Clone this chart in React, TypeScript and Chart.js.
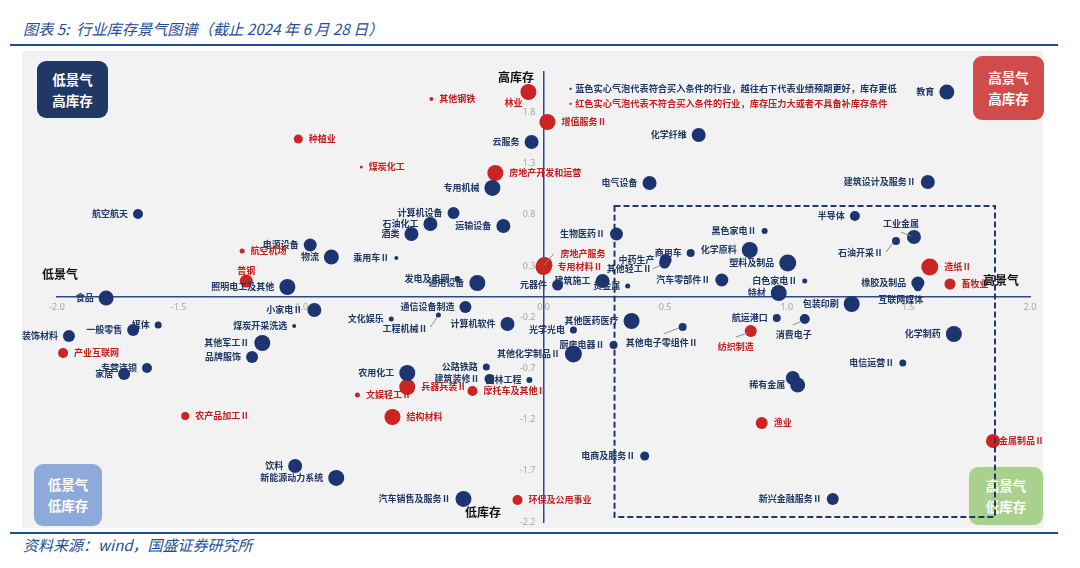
import React, { useEffect, useRef } from "react";
import { Chart, registerables } from "chart.js";

Chart.register(...registerables);

// ---------- axis ticks ----------
const xTickValues = [-2.0, -1.5, -1.0, 0.0, 0.5, 1.0, 1.5, 2.0];
const yTickValues = [-2.2, -1.7, -1.2, -0.7, -0.2, 0.3, 0.8, 1.3, 1.8];

// ---------- blue bubbles (符合买入条件) ----------
const blueNames = [
  "航空航天", "电源设备", "物流", "乘用车Ⅱ", "照明电工及其他", "食品", "小家电Ⅱ", "媒体", "一般零售", "煤炭开采洗选",
  "文化娱乐", "装饰材料", "其他军工Ⅱ", "品牌服饰", "专营连锁", "家居", "云服务", "专用机械", "化学纤维", "电气设备",
  "计算机设备", "教育", "建筑设计及服务Ⅱ", "半导体", "石油化工", "酒类", "运输设备", "生物医药Ⅱ", "发电及电网", "通用设备",
  "元器件", "建筑施工", "贵金属", "中药生产", "其他轻工Ⅱ", "商用车", "化学原料", "黑色家电Ⅱ", "塑料及制品", "汽车零部件Ⅱ",
  "白色家电Ⅱ", "特材", "包装印刷", "航运港口", "消费电子", "通信设备制造", "工程机械Ⅱ", "计算机软件", "光学光电", "其他医药医疗",
  "其他电子零组件Ⅱ", "厨房电器Ⅱ", "其他化学制品Ⅱ", "公路铁路", "农用化工", "建筑装修Ⅱ", "园林工程", "饮料", "新能源动力系统", "汽车销售及服务Ⅱ",
  "电商及服务Ⅱ", "工业金属", "石油开采Ⅱ", "橡胶及制品", "互联网媒体", "化学制药", "电信运营Ⅱ", "", "稀有金属", "新兴金融服务Ⅱ",
];
const blueX = [
  -1.667, -0.959, -0.872, -0.605, -1.053, -1.798, -0.942, -1.584, -1.687, -1.025,
  -0.626, -1.951, -1.156, -1.198, -1.630, -1.724, -0.049, -0.210, 0.638, 0.436,
  -0.370, 1.658, 1.580, 1.280, -0.465, -0.543, -0.165, 0.300, -0.354, -0.272,
  0.058, 0.243, 0.346, 0.502, 0.498, 0.605, 0.848, 0.909, 1.004, 0.733,
  1.074, 0.967, 1.267, 0.959, 1.074, -0.321, -0.432, -0.148, 0.123, 0.362,
  0.572, 0.288, 0.123, -0.235, -0.560, -0.222, -0.058, -1.021, -0.852, -0.329,
  0.416, 1.523, 1.449, 1.539, 1.539, 1.687, 1.477, 1.025, 1.045, 1.189,
];
const blueY = [
  0.808, 0.505, 0.388, 0.378, 0.095, -0.013, -0.130, -0.276, -0.325, -0.286,
  -0.218, -0.384, -0.452, -0.589, -0.696, -0.755, 1.511, 1.062, 1.579, 1.110,
  0.817, 1.999, 1.120, 0.788, 0.710, 0.612, 0.690, 0.612, 0.173, 0.134,
  0.114, 0.153, 0.104, 0.358, 0.329, 0.427, 0.456, 0.642, 0.329, 0.163,
  0.153, 0.036, -0.071, -0.208, -0.218, -0.101, -0.179, -0.267, -0.325, -0.237,
  -0.296, -0.472, -0.560, -0.687, -0.745, -0.804, -0.813, -1.653, -1.770, -1.975,
  -1.555, 0.583, 0.544, 0.134, 0.092, -0.364, -0.647, -0.794, -0.862, -1.975,
];
const blueSize = [
  5, 6.5, 7.5, 2, 8, 7.5, 7, 3.5, 6, 2,
  2.5, 6, 8, 6, 5, 6, 7, 8, 7, 7,
  6, 7.5, 7, 5, 7, 7, 7, 6.5, 3, 8,
  5.5, 7, 2.5, 6, 5.5, 4, 8, 3, 8.5, 6.5,
  2.5, 8, 8, 4, 5, 6, 2.5, 7, 3.5, 8,
  4, 4, 8.5, 3.5, 8, 5, 3, 7, 8, 8,
  4.5, 7, 4, 6.5, 4, 8, 3.5, 7, 7.5, 6,
];

// ---------- red bubbles (不符合买入条件) ----------
const redNames = [
  "其他钢铁", "种植业", "煤炭化工", "林业", "增值服务Ⅱ", "房地产开发和运营", "航空机场", "普钢", "房地产服务", "专用材料Ⅱ",
  "产业互联网", "兵器兵装Ⅱ", "摩托车及其他Ⅱ", "文娱轻工Ⅱ", "结构材料", "农产品加工Ⅱ", "环保及公用事业", "纺织制造", "造纸Ⅱ", "畜牧业",
  "渔业", "金属制品Ⅱ",
];
const redX = [
  -0.461, -1.008, -0.749, -0.062, 0.016, -0.198, -1.239, -1.222, 0.004, 0.000,
  -1.975, -0.560, -0.292, -0.765, -0.621, -1.473, -0.107, 0.852, 1.588, 1.671,
  0.897, 1.848,
];
const redY = [
  1.931, 1.540, 1.267, 1.999, 1.706, 1.208, 0.446, 0.153, 0.310, 0.290,
  -0.550, -0.882, -0.921, -0.960, -1.175, -1.165, -1.985, -0.335, 0.290, 0.124,
  -1.233, -1.409,
];
const redSize = [
  2, 4.5, 1.5, 8, 8, 8, 2.5, 6.5, 8, 8,
  5, 8, 5, 2.5, 8, 4, 5, 6, 8.5, 5.5,
  6, 7,
];

// ---------- styles ----------
const NAVY = "#1c3570";
const RED = "#cc2323";
const NAVY_TEXT = "#1f3864";
const RED_TEXT = "#c41e1e";
const AXIS = "#2c4a86";
const TICK_COLOR = "#a6a6a6";
const TICK_FONT = '9px "Noto Sans", sans-serif';
const LABEL_FONT = 'bold 9px "Noto Sans CJK SC", "Noto Sans", sans-serif';

// focus region (dashed box) in data units
const focusBox = { xMin: 0.292, xMax: 1.856, yMin: -2.15, yMax: 0.886 };

type Place = { align: CanvasTextAlign; dx: number; dy: number; leader?: [number, number, number, number] };
const labelPlacement: Record<string, Place> = {
  "林业": { align: "center", dx: -15, dy: 11 },
  "普钢": { align: "center", dx: 0, dy: -10 },
  "房地产服务": { align: "left", dx: 16, dy: -11, leader: [0, 0, 9, -11] },
  "其他轻工Ⅱ": { align: "right", dx: -13, dy: 6, leader: [-12, 6, -4, 2] },
  "工程机械Ⅱ": { align: "right", dx: -11, dy: 14, leader: [-8, 12, -1, 2] },
  "其他电子零组件Ⅱ": { align: "center", dx: -21, dy: 16, leader: [-19, 7, -4, 1] },
  "消费电子": { align: "center", dx: -11, dy: 16, leader: [-12, 6, -3, 2] },
  "纺织制造": { align: "center", dx: -15, dy: 16, leader: [-15, 6, -3, 2] },
  "工业金属": { align: "center", dx: -13, dy: -13, leader: [-13, -5, -3, -1] },
  "石油开采Ⅱ": { align: "right", dx: -13, dy: 12, leader: [-10, 11, -3, 2] },
  "互联网媒体": { align: "center", dx: -17, dy: 12 },
  "金属制品Ⅱ": { align: "left", dx: 6, dy: 0 },
};

function toPoints(names: string[], xs: number[], ys: number[], rs: number[]) {
  return names.map((name, i) => ({ x: xs[i], y: ys[i], r: rs[i], name }));
}

const overlayPlugin = {
  id: "overlay",
  beforeDatasetsDraw(chart: any) {
    // y tick labels, placed left of the y axis (which crosses at x = 0)
    const { ctx, scales } = chart;
    const xs = scales.x;
    const ys = scales.y;
    const ax = xs.getPixelForValue(0);
    ctx.save();
    ctx.font = TICK_FONT;
    ctx.fillStyle = TICK_COLOR;
    ctx.textAlign = "right";
    ctx.textBaseline = "middle";
    ys.ticks.forEach((t: any) => {
      ctx.fillText(Number(t.value).toFixed(1), ax - 8, ys.getPixelForValue(t.value));
    });
    ctx.restore();
  },
  afterDatasetsDraw(chart: any) {
    const { ctx, scales } = chart;
    const xs = scales.x;
    const ys = scales.y;
    // dashed focus box
    ctx.save();
    ctx.strokeStyle = NAVY_TEXT;
    ctx.lineWidth = 2;
    ctx.setLineDash([6, 3]);
    const l = xs.getPixelForValue(focusBox.xMin);
    const r = xs.getPixelForValue(focusBox.xMax);
    const t = ys.getPixelForValue(focusBox.yMax);
    const b = ys.getPixelForValue(focusBox.yMin);
    ctx.strokeRect(l, t, r - l, b - t);
    ctx.restore();

    // labels
    ctx.save();
    ctx.font = LABEL_FONT;
    ctx.textBaseline = "middle";
    chart.data.datasets.forEach((ds: any, di: number) => {
      const meta = chart.getDatasetMeta(di);
      const isRed = di === 1;
      meta.data.forEach((el: any, i: number) => {
        const p = ds.data[i];
        if (!p.name) return;
        const place = labelPlacement[p.name];
        let tx: number, ty: number, align: CanvasTextAlign;
        if (place) {
          tx = el.x + place.dx;
          ty = el.y + place.dy;
          align = place.align;
          if (place.leader) {
            const [a, bb, c, d] = place.leader;
            ctx.save();
            ctx.strokeStyle = "#8c8c8c";
            ctx.lineWidth = 1;
            ctx.beginPath();
            ctx.moveTo(el.x + a, el.y + bb);
            ctx.lineTo(el.x + c, el.y + d);
            ctx.stroke();
            ctx.restore();
          }
        } else if (isRed) {
          tx = el.x + p.r + 6;
          ty = el.y;
          align = "left";
        } else {
          tx = el.x - p.r - 5;
          ty = el.y;
          align = "right";
        }
        ctx.textAlign = align;
        ctx.fillStyle = isRed ? RED_TEXT : NAVY_TEXT;
        ctx.fillText(p.name, tx, ty);
      });
    });
    ctx.restore();
  },
};

const W = 1080;
const H = 568;

export default function App() {
  const ref = useRef<HTMLCanvasElement>(null);

  useEffect(() => {
    const canvas = ref.current!;
    const chart = new Chart(canvas, {
      type: "bubble",
      data: {
        datasets: [
          {
            label: "符合买入条件",
            data: toPoints(blueNames, blueX, blueY, blueSize),
            backgroundColor: NAVY,
            borderWidth: 0,
          },
          {
            label: "不符合买入条件",
            data: toPoints(redNames, redX, redY, redSize),
            backgroundColor: RED,
            borderWidth: 0,
          },
        ],
      },
      options: {
        animation: false,
        responsive: false,
        devicePixelRatio: 1,
        events: [],
        layout: { padding: { left: 57, right: 50, top: 71.4, bottom: 46 } },
        plugins: { legend: { display: false }, tooltip: { enabled: false } },
        scales: {
          x: {
            type: "linear",
            min: -2,
            max: 2,
            position: { y: 0 },
            grid: { display: false, drawTicks: false },
            border: { display: true, color: AXIS, width: 1.5 },
            afterBuildTicks: (s: any) => {
              s.ticks = xTickValues.map((v) => ({ value: v }));
            },
            ticks: {
              autoSkip: false,
              maxRotation: 0,
              padding: 5,
              color: TICK_COLOR,
              font: { size: 9, family: '"Noto Sans", sans-serif' },
              callback: (v: any) => Number(v).toFixed(1),
            },
          },
          y: {
            type: "linear",
            min: -2.2,
            max: 2.2,
            position: { x: 0 },
            grid: { display: false, drawTicks: false },
            border: { display: true, color: AXIS, width: 1.5 },
            afterBuildTicks: (s: any) => {
              s.ticks = yTickValues.map((v) => ({ value: v }));
            },
            ticks: { display: false },
          },
        },
      },
      plugins: [overlayPlugin],
    });
    return () => chart.destroy();
  }, []);

  const boxText: React.CSSProperties = {
    position: "absolute",
    display: "flex",
    flexDirection: "column",
    alignItems: "center",
    justifyContent: "center",
    color: "#fff",
    fontWeight: "bold",
    fontSize: 13.5,
    lineHeight: "21px",
    borderRadius: 9,
  };
  const axisName: React.CSSProperties = {
    position: "absolute",
    fontWeight: "bold",
    fontSize: 12,
    color: "#111",
    lineHeight: "14px",
    whiteSpace: "nowrap",
    transform: "translate(-50%, -50%)",
    zIndex: 3,
  };

  return (
    <div
      style={{
        position: "absolute",
        left: 0,
        top: 0,
        width: W,
        height: H,
        background: "#fff",
        overflow: "hidden",
        fontFamily: '"Noto Sans CJK SC", "Noto Sans", sans-serif',
      }}
    >
      <div
        style={{
          position: "absolute",
          left: 23,
          top: 17,
          fontSize: 15.2,
          lineHeight: "22px",
          fontStyle: "italic",
          color: "#1f4e9a",
          whiteSpace: "nowrap",
        }}
      >
        图表 5:&nbsp; 行业库存景气图谱（截止 2024 年 6 月 28 日）
      </div>
      <div style={{ position: "absolute", left: 10, top: 44, width: 1048, height: 2, background: "#1f4e9a" }} />
      <div style={{ position: "absolute", left: 22, top: 51, width: 1021, height: 477, background: "#f2f2f2" }} />

      <div style={{ ...boxText, left: 37, top: 61, width: 71, height: 57, background: "#1f3864" }}>
        <span>低景气</span>
        <span>高库存</span>
      </div>
      <div style={{ ...boxText, left: 973, top: 56, width: 71, height: 64, background: "#d24b4b" }}>
        <span>高景气</span>
        <span>高库存</span>
      </div>
      <div style={{ ...boxText, left: 34, top: 464, width: 68, height: 62, background: "#8eaadb" }}>
        <span>低景气</span>
        <span>低库存</span>
      </div>
      <div style={{ ...boxText, left: 969, top: 467, width: 74, height: 58, background: "#a9d18e" }}>
        <span>高景气</span>
        <span>低库存</span>
      </div>

      <canvas ref={ref} width={W} height={H} style={{ position: "absolute", left: 0, top: 0, zIndex: 2 }} />

      <div style={{ ...axisName, left: 516, top: 77 }}>高库存</div>
      <div style={{ ...axisName, left: 483, top: 512 }}>低库存</div>
      <div style={{ ...axisName, left: 60, top: 274 }}>低景气</div>
      <div style={{ ...axisName, left: 1001, top: 280 }}>高景气</div>

      <div
        style={{
          position: "absolute",
          left: 566,
          top: 81,
          fontSize: 9.2,
          lineHeight: "14px",
          fontWeight: "bold",
          whiteSpace: "nowrap",
          zIndex: 3,
        }}
      >
        <div style={{ color: NAVY_TEXT }}>•蓝色实心气泡代表符合买入条件的行业，越往右下代表业绩预期更好，库存更低</div>
        <div style={{ color: RED_TEXT, marginTop: 1 }}>•红色实心气泡代表不符合买入条件的行业，库存压力大或者不具备补库存条件</div>
      </div>

      <div style={{ position: "absolute", left: 10, top: 532, width: 1048, height: 2, background: "#1b4f9c" }} />
      <div
        style={{
          position: "absolute",
          left: 23,
          top: 535,
          fontSize: 15,
          lineHeight: "20px",
          fontStyle: "italic",
          color: "#1f4e9a",
          whiteSpace: "nowrap",
        }}
      >
        资料来源：wind，国盛证券研究所
      </div>
    </div>
  );
}
